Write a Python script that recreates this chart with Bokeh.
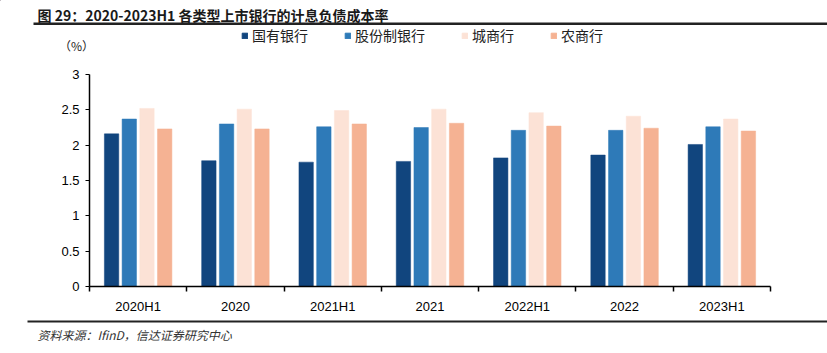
from bokeh.plotting import figure
from bokeh.layouts import column, row
from bokeh.models import (Range1d, FixedTicker, NumeralTickFormatter, Label, Legend,
                          LegendItem, ColumnDataSource, BoxAnnotation)
from bokeh.transform import dodge
from bokeh.embed import file_html
from bokeh.resources import INLINE

# ---- data ----
categories = ["2020H1", "2020", "2021H1", "2021", "2022H1", "2022", "2023H1"]
series_names = ["国有银行", "股份制银行", "城商行", "农商行"]
guoyou = [2.16, 1.78, 1.76, 1.77, 1.82, 1.86, 2.01]
gufen = [2.37, 2.30, 2.26, 2.25, 2.21, 2.21, 2.26]
chengshang = [2.52, 2.51, 2.49, 2.51, 2.46, 2.41, 2.37]
nongshang = [2.23, 2.23, 2.30, 2.31, 2.27, 2.24, 2.20]
y_ticks = [0, 0.5, 1, 1.5, 2, 2.5, 3]

colors = ["#11457E", "#2E7AB8", "#FCE2D6", "#F5B293"]
offsets = [-0.273, -0.091, 0.091, 0.273]

W = 827
HEAD_H = 60
MAIN_H = 256
FOOT_H = 353 - HEAD_H - MAIN_H

n = len(categories)
src = ColumnDataSource(dict(
    x=[i + 0.5 for i in range(n)],
    s0=guoyou, s1=gufen, s2=chengshang, s3=nongshang,
))


def blank(h):
    f = figure(width=W, height=h, output_backend="svg", toolbar_location=None,
               x_range=Range1d(0, W), y_range=Range1d(h, 0),
               min_border=0, min_border_left=0, min_border_right=0,
               min_border_top=0, min_border_bottom=0)
    f.axis.visible = False
    f.grid.visible = False
    f.outline_line_color = None
    f.background_fill_color = "white"
    f.border_fill_color = "white"
    return f


# ---- header: title, rule, unit, legend ----
head = blank(HEAD_H)
head.add_layout(Label(x=37, y=14, text="图 29：2020-2023H1 各类型上市银行的计息负债成本率",
                      text_font="Noto Sans CJK SC", text_font_style="bold", text_font_size="14px",
                      text_color="#1a1a1a", text_baseline="middle"))
head.add_layout(BoxAnnotation(left=33, right=W, top=22, bottom=24.5,
                              fill_color="#222222", fill_alpha=1, line_color=None))
head.add_layout(Label(x=76, y=45, text="（%）",
                      text_font="Noto Sans CJK SC", text_font_size="12px", text_color="#222222",
                      text_baseline="middle", text_align="center"))
dummy = ColumnDataSource(dict(x=[-100], top=[0]))
legend_r = []
for k in range(4):
    legend_r.append(head.vbar(x="x", top="top", width=1, source=dummy,
                              fill_color=colors[k], line_color=colors[k]))
legend = Legend(items=[LegendItem(label=series_names[k], renderers=[legend_r[k]]) for k in range(4)],
                orientation="horizontal", location=(241, 15),
                glyph_width=7, glyph_height=7, label_standoff=4, spacing=36,
                padding=0, margin=0, border_line_color=None, background_fill_alpha=0,
                label_text_font="Noto Sans CJK SC", label_text_font_size="14px",
                label_text_color="#222222", label_height=14)
head.add_layout(legend, "center")

# ---- main chart ----
p = figure(width=W, height=MAIN_H, output_backend="svg", toolbar_location=None,
           x_range=Range1d(0, n), y_range=Range1d(0, 3),
           min_border_left=89, min_border_right=57, min_border_top=14, min_border_bottom=29)
p.outline_line_color = None
p.xgrid.visible = False
p.ygrid.visible = False
p.background_fill_color = "white"
p.border_fill_color = "white"

for k in range(4):
    p.vbar(x=dodge("x", offsets[k]), top="s%d" % k, width=0.148, source=src,
           fill_color=colors[k], line_color=colors[k], line_width=0.5)

xa = p.xaxis[0]
xa.ticker = FixedTicker(ticks=[i + 0.5 for i in range(n)], minor_ticks=list(range(n + 1)))
xa.major_label_overrides = {i + 0.5: c for i, c in enumerate(categories)}
xa.major_tick_line_color = None
xa.minor_tick_in = 0
xa.minor_tick_out = 5
xa.minor_tick_line_color = "black"
xa.minor_tick_line_width = 1.5
xa.axis_line_color = "black"
xa.axis_line_width = 1.5
xa.major_label_text_font = "Liberation Sans"
xa.major_label_text_font_size = "13px"
xa.major_label_text_color = "black"
xa.major_label_standoff = 6

ya = p.yaxis[0]
ya.ticker = FixedTicker(ticks=y_ticks)
ya.formatter = NumeralTickFormatter(format="0.[0]")
ya.major_tick_in = 0
ya.major_tick_out = 4
ya.minor_tick_line_color = None
ya.major_tick_line_color = "black"
ya.major_tick_line_width = 1.2
ya.axis_line_color = "black"
ya.axis_line_width = 1.5
ya.major_label_text_font = "Liberation Sans"
ya.major_label_text_font_size = "13px"
ya.major_label_text_color = "black"
ya.major_label_standoff = 6

# ---- footer ----
foot = blank(FOOT_H)
foot.add_layout(BoxAnnotation(left=27, right=W, top=4, bottom=6,
                              fill_color="#222222", fill_alpha=1, line_color=None))
foot.add_layout(Label(x=37, y=18, text="资料来源：IfinD，信达证券研究中心",
                      text_font="Noto Sans CJK SC", text_font_style="italic", text_font_size="12px",
                      text_color="#333333", text_baseline="middle"))

layout = column(row(head), p, row(foot), spacing=0)
open("out.html", "w").write(file_html(layout, INLINE))
